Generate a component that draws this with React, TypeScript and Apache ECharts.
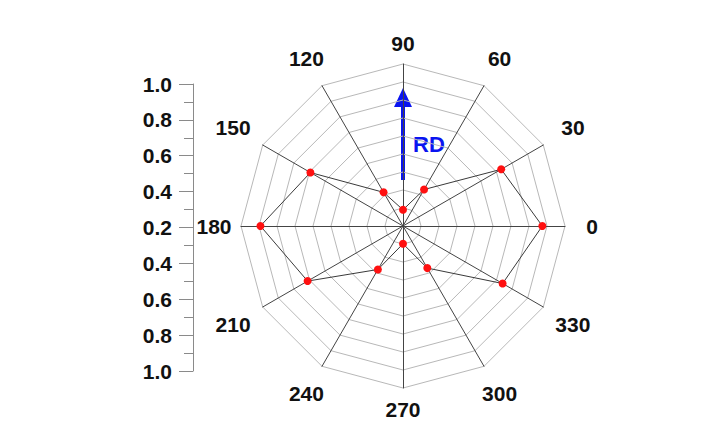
import React, { useEffect, useRef } from "react";
import * as echarts from "echarts";

// Angles (degrees) of the polar spokes
const ANGLES = [0, 30, 60, 90, 120, 150, 180, 210, 240, 270, 300, 330];
// Normalised radial values (outer ring = 1)
const VALUES = [0.86, 0.7, 0.26, 0.1, 0.24, 0.66, 0.88, 0.68, 0.31, 0.11, 0.3, 0.71];
// Scale bar labels, top to bottom
const SCALE_LABELS = ["1.0", "0.8", "0.6", "0.4", "0.2", "0.4", "0.6", "0.8", "1.0"];

const CX = 403;
const CY = 226;
const R = 162;
const FONT = "'Liberation Sans', Arial, sans-serif";

export default function App() {
  const ref = useRef<HTMLDivElement>(null);
  useEffect(() => {
    if (!ref.current) return;
    const chart = echarts.init(ref.current, null, { renderer: "svg" });

    const angleTexts = ANGLES.map((a) => {
      const rad = (a * Math.PI) / 180;
      const c = Math.cos(rad);
      const lr = 183 + 10 * Math.abs(Math.sin(2 * rad)) + 6 * c * c;
      return {
        type: "text",
        x: CX + lr * c,
        y: CY - lr * Math.sin(rad),
        style: {
          text: String(a),
          fill: "#111",
          font: `bold 21px ${FONT}`,
          align: "center",
          verticalAlign: "middle",
        },
      };
    });

    chart.setOption({
      animation: false,
      backgroundColor: "#ffffff",
      radar: {
        center: [CX, CY],
        radius: R,
        startAngle: 0,
        shape: "polygon",
        splitNumber: 9,
        indicator: ANGLES.map((a) => ({ name: String(a), min: 0, max: 1 })),
        axisName: { show: false },
        splitLine: { lineStyle: { color: "#b8b8b8", width: 1 } },
        splitArea: { show: false },
        axisLine: { lineStyle: { color: "#444", width: 1 } },
        axisTick: { show: false },
        axisLabel: { show: false },
      },
      grid: { left: 193, top: 84, height: 287, width: 10 },
      xAxis: { type: "value", show: false, min: 0, max: 1 },
      yAxis: {
        type: "value",
        min: -0.8,
        max: 0.8,
        interval: 0.2,
        position: "left",
        axisLine: { show: true, lineStyle: { color: "#8a8a8a", width: 1 } },
        axisTick: { show: true, length: 14, lineStyle: { color: "#8a8a8a" } },
        minorTick: { show: true, splitNumber: 2, length: 9, lineStyle: { color: "#8a8a8a" } },
        splitLine: { show: false },
        minorSplitLine: { show: false },
        axisLabel: {
          margin: 21,
          color: "#111",
          fontSize: 21,
          fontWeight: "bold",
          fontFamily: FONT,
          formatter: (v: number) => {
            const idx = Math.round((0.8 - v) / 0.2);
            return SCALE_LABELS[idx] ?? "";
          },
        },
      },
      series: [
        {
          type: "radar",
          symbol: "circle",
          symbolSize: 8,
          itemStyle: { color: "#ff1010" },
          lineStyle: { color: "#3a3a3a", width: 1 },
          data: [{ value: VALUES }],
        },
      ],
      graphic: [
        ...angleTexts,
        {
          type: "line",
          shape: { x1: CX, y1: 180, x2: CX, y2: 104 },
          style: { stroke: "#0a14f0", lineWidth: 4 },
        },
        {
          type: "polygon",
          shape: { points: [[CX - 9, 107], [CX + 9, 107], [CX, 88]] },
          style: { fill: "#0a14f0" },
        },
        {
          type: "text",
          x: 413,
          y: 144,
          style: {
            text: "RD",
            fill: "#0a14f0",
            font: `bold 22px ${FONT}`,
            align: "left",
            verticalAlign: "middle",
          },
        },
      ],
    });
    return () => chart.dispose();
  }, []);
  return (
    <div
      ref={ref}
      style={{ position: "fixed", left: 0, top: 0, width: 725, height: 438 }}
    />
  );
}
